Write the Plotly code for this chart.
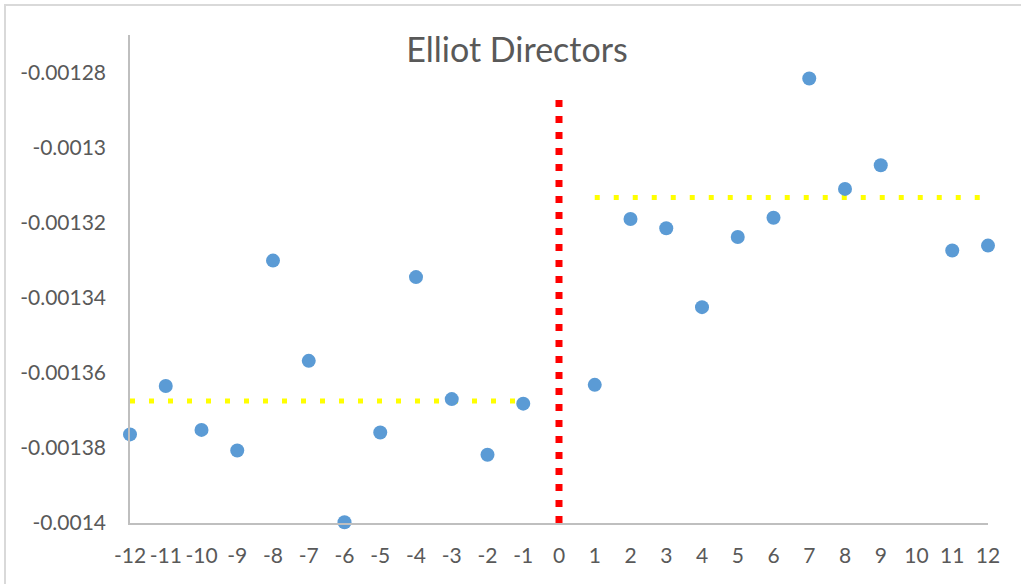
import plotly.graph_objects as go

# event window, days relative to announcement
days = [-12, -11, -10, -9, -8, -7, -6, -5, -4, -3, -2, -1,
        1, 2, 3, 4, 5, 6, 7, 8, 9, 11, 12]
values = [-0.0013764, -0.0013635, -0.0013752, -0.0013807, -0.0013301, -0.0013568,
          -0.0013998, -0.0013759, -0.0013345, -0.0013670, -0.0013818, -0.0013682,
          -0.0013632, -0.0013190, -0.0013215, -0.0013425, -0.0013238, -0.0013187,
          -0.0012816, -0.0013110, -0.0013047, -0.0013274, -0.0013261]

# averages before / after
pre_x = [-12, -1]
pre_mean = [-0.0013675, -0.0013675]
post_x = [1, 12]
post_mean = [-0.0013133, -0.0013133]

# event day marker
event_x = [0, 0]
event_y = [-0.0014, -0.001286]

xticks = list(range(-12, 13))
xtext = [str(v) for v in xticks]  # plain hyphen minus like the original
yticks = [-0.0014, -0.00138, -0.00136, -0.00134, -0.00132, -0.0013, -0.00128]
ytext = ["-0.0014", "-0.00138", "-0.00136", "-0.00134", "-0.00132", "-0.0013", "-0.00128"]

W, H = 1021, 584
L, R, T, B = 130, 33, 35, 61
pw, ph = W - L - R, H - T - B

fig = go.Figure()

fig.add_trace(go.Scatter(x=pre_x, y=pre_mean, mode="lines",
                         line=dict(color="#FFFF00", width=5, dash="5px,14px"),
                         hoverinfo="skip", cliponaxis=False))
fig.add_trace(go.Scatter(x=post_x, y=post_mean, mode="lines",
                         line=dict(color="#FFFF00", width=5, dash="5px,14px"),
                         hoverinfo="skip", cliponaxis=False))
fig.add_trace(go.Scatter(x=event_x, y=event_y, mode="lines",
                         line=dict(color="#FF0000", width=7, dash="7px,9px"),
                         hoverinfo="skip", cliponaxis=False))
fig.add_trace(go.Scatter(x=days, y=values, mode="markers",
                         marker=dict(color="#5B9BD5", size=14),
                         cliponaxis=False))

fig.update_layout(
    width=W, height=H,
    margin=dict(l=L, r=R, t=T, b=B, autoexpand=False),
    paper_bgcolor="white", plot_bgcolor="white",
    showlegend=False,
    font=dict(family="Lato", color="#595959", size=21),
    title=dict(text="Elliot Directors", font=dict(size=34, color="#595959"),
               x=517 / W, xref="container", xanchor="center",
               y=1 - 50 / H, yref="container", yanchor="middle"),
    xaxis=dict(range=[-12, 12], tickvals=xticks, ticktext=xtext,
               showgrid=False, zeroline=False, showline=True, automargin=False,
               linecolor="#BFBFBF", linewidth=1.5, ticks="outside", ticklen=13,
               tickcolor="rgba(0,0,0,0)", tickangle=0,
               tickfont=dict(size=21, color="#595959")),
    yaxis=dict(range=[-0.0014, -0.00127], tickvals=yticks, ticktext=ytext,
               showgrid=False, zeroline=False, showline=True, automargin=False,
               linecolor="#BFBFBF", linewidth=1.5, ticks="outside",
               ticklen=18, tickcolor="rgba(0,0,0,0)",
               tickfont=dict(size=21, color="#595959")),
)

# light chart-area border (top and left visible in the reference)
fig.add_shape(type="rect", xref="paper", yref="paper",
              x0=(5 - L) / pw, x1=(W + 20 - L) / pw,
              y0=-(H + 20 - T - ph) / ph, y1=(H - 5 - B) / ph,
              line=dict(color="#D9D9D9", width=2), layer="below")

fig.write_html("out.html", config={"displayModeBar": False},
               post_script="document.body.style.margin='0';")
